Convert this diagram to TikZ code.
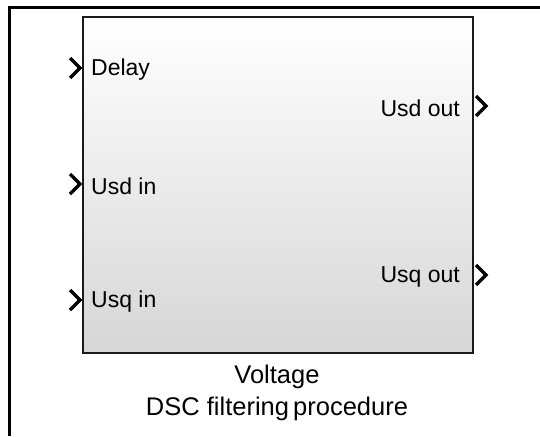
\documentclass[tikz,border=0pt]{standalone}
\usepackage{fontspec}
\setmainfont{Liberation Sans}
\usepackage{xcolor}
\usetikzlibrary{positioning}
\definecolor{borde}{HTML}{1A1A1A}
\definecolor{grisfondo}{HTML}{D6D6D6}

\begin{document}
\begin{tikzpicture}[x=1pt, y=-1pt,
      bloque/.style={rectangle, draw=borde, line width=2pt, top color=white,
                     bottom color=grisfondo, minimum width=390pt, minimum height=336pt,
                     inner sep=0pt},
      marco/.style={draw=black, line width=3pt},
      puerto/.style={draw=black, line width=3.3pt, line join=miter},
      etiq/.style={font=\fontsize{23}{26}\selectfont, inner sep=0pt},
      titulo/.style={font=\fontsize{25.5}{29}\selectfont, inner sep=0pt}]

    \useasboundingbox (0,0) rectangle (540,436);
    \draw[marco] (9,436) -- (9,8) -- (540,8);

    % bloque principal
    \node[bloque] (blk) at (278,185) {};

    % puertos de entrada
    \draw[puerto] (70,58) -- (80,68) -- (70,78);
    \draw[puerto] (70,174) -- (80,184) -- (70,194);
    \draw[puerto] (70,290) -- (80,300) -- (70,310);
    % puertos de salida
    \draw[puerto] (476,96) -- (486,106) -- (476,116);
    \draw[puerto] (476,265) -- (486,275) -- (476,285);

    \node[etiq, anchor=west] (delay) at (91,70) {Delay};
    \node[etiq, anchor=west] (usdin) at (91,186) {Usd in};
    \node[etiq, anchor=west] (usqin) at (91,302) {Usq in};
    \node[etiq, anchor=east] (usdout) at (460,108) {Usd out};
    \node[etiq, anchor=east] (usqout) at (460,277) {Usq out};

    \node[titulo] (volt) at (277,377) {Voltage};
    \node[titulo, below=8pt of volt] (dsc) {DSC filtering\hspace{-3pt} procedure};
  \end{tikzpicture}
\end{document}
